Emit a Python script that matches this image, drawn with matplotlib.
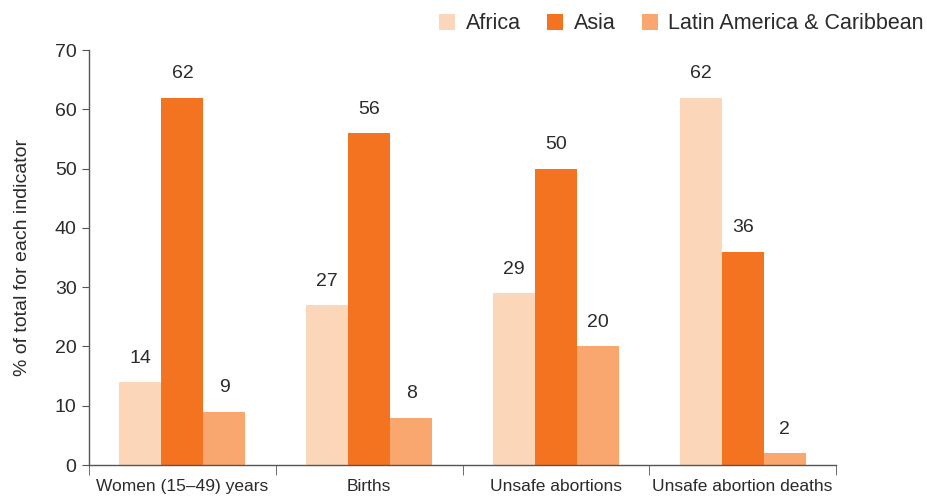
import numpy as np
import matplotlib.pyplot as plt
from matplotlib.ticker import FixedLocator

plt.rcParams['font.family'] = ['Liberation Sans', 'DejaVu Sans']

# data
categories = ['Women (15\u201349) years', 'Births', 'Unsafe abortions', 'Unsafe abortion deaths']
regions = ['Africa', 'Asia', 'Latin America & Caribbean']
africa = [14, 27, 29, 62]
asia = [62, 56, 50, 36]
latin = [9, 8, 20, 2]
colors = ['#FCD6B8', '#F37321', '#F9A76F']

fig = plt.figure(figsize=(9.28, 4.96), dpi=100)
ax = fig.add_axes([0.0959, 0.0625, 0.805, 0.8365])

x = np.arange(len(categories))
w = 0.225
text_col = '#2b2b2b'
for i, (vals, name) in enumerate(zip([africa, asia, latin], regions)):
    bars = ax.bar(x + (i - 1) * w, vals, w, color=colors[i], label=name)
    for b, v in zip(bars, vals):
        ax.annotate(str(v), (b.get_x() + b.get_width() / 2, v),
                    xytext=(0, 11), textcoords='offset points',
                    ha='center', va='bottom', fontsize=14, color=text_col)

ax.set_xlim(-0.5, len(categories) - 0.5)
ax.set_ylim(0, 70)
ax.set_yticks(range(0, 71, 10))
ax.set_xticks(x)
ax.set_xticklabels(categories, fontsize=12.5, color=text_col)
ax.xaxis.set_minor_locator(FixedLocator(np.arange(-0.5, len(categories), 1)))
ax.tick_params(axis='x', which='major', length=0, pad=10)
ax.tick_params(axis='x', which='minor', length=7, color='#555555')
ax.tick_params(axis='y', length=5, color='#555555', labelsize=14, labelcolor=text_col, pad=4)
ax.set_ylabel('% of total for each indicator', fontsize=14, color=text_col, labelpad=17)

for s in ['top', 'right']:
    ax.spines[s].set_visible(False)
for s in ['left', 'bottom']:
    ax.spines[s].set_color('#555555')
    ax.spines[s].set_linewidth(1)

ax.legend(loc='upper right', bbox_to_anchor=(1.135, 1.12), ncol=3, frameon=False,
          fontsize=15.5, handlelength=0.75, handleheight=0.75, handletextpad=0.5,
          columnspacing=1.2, labelcolor=text_col, borderaxespad=0.2)

plt.savefig('out.png')
